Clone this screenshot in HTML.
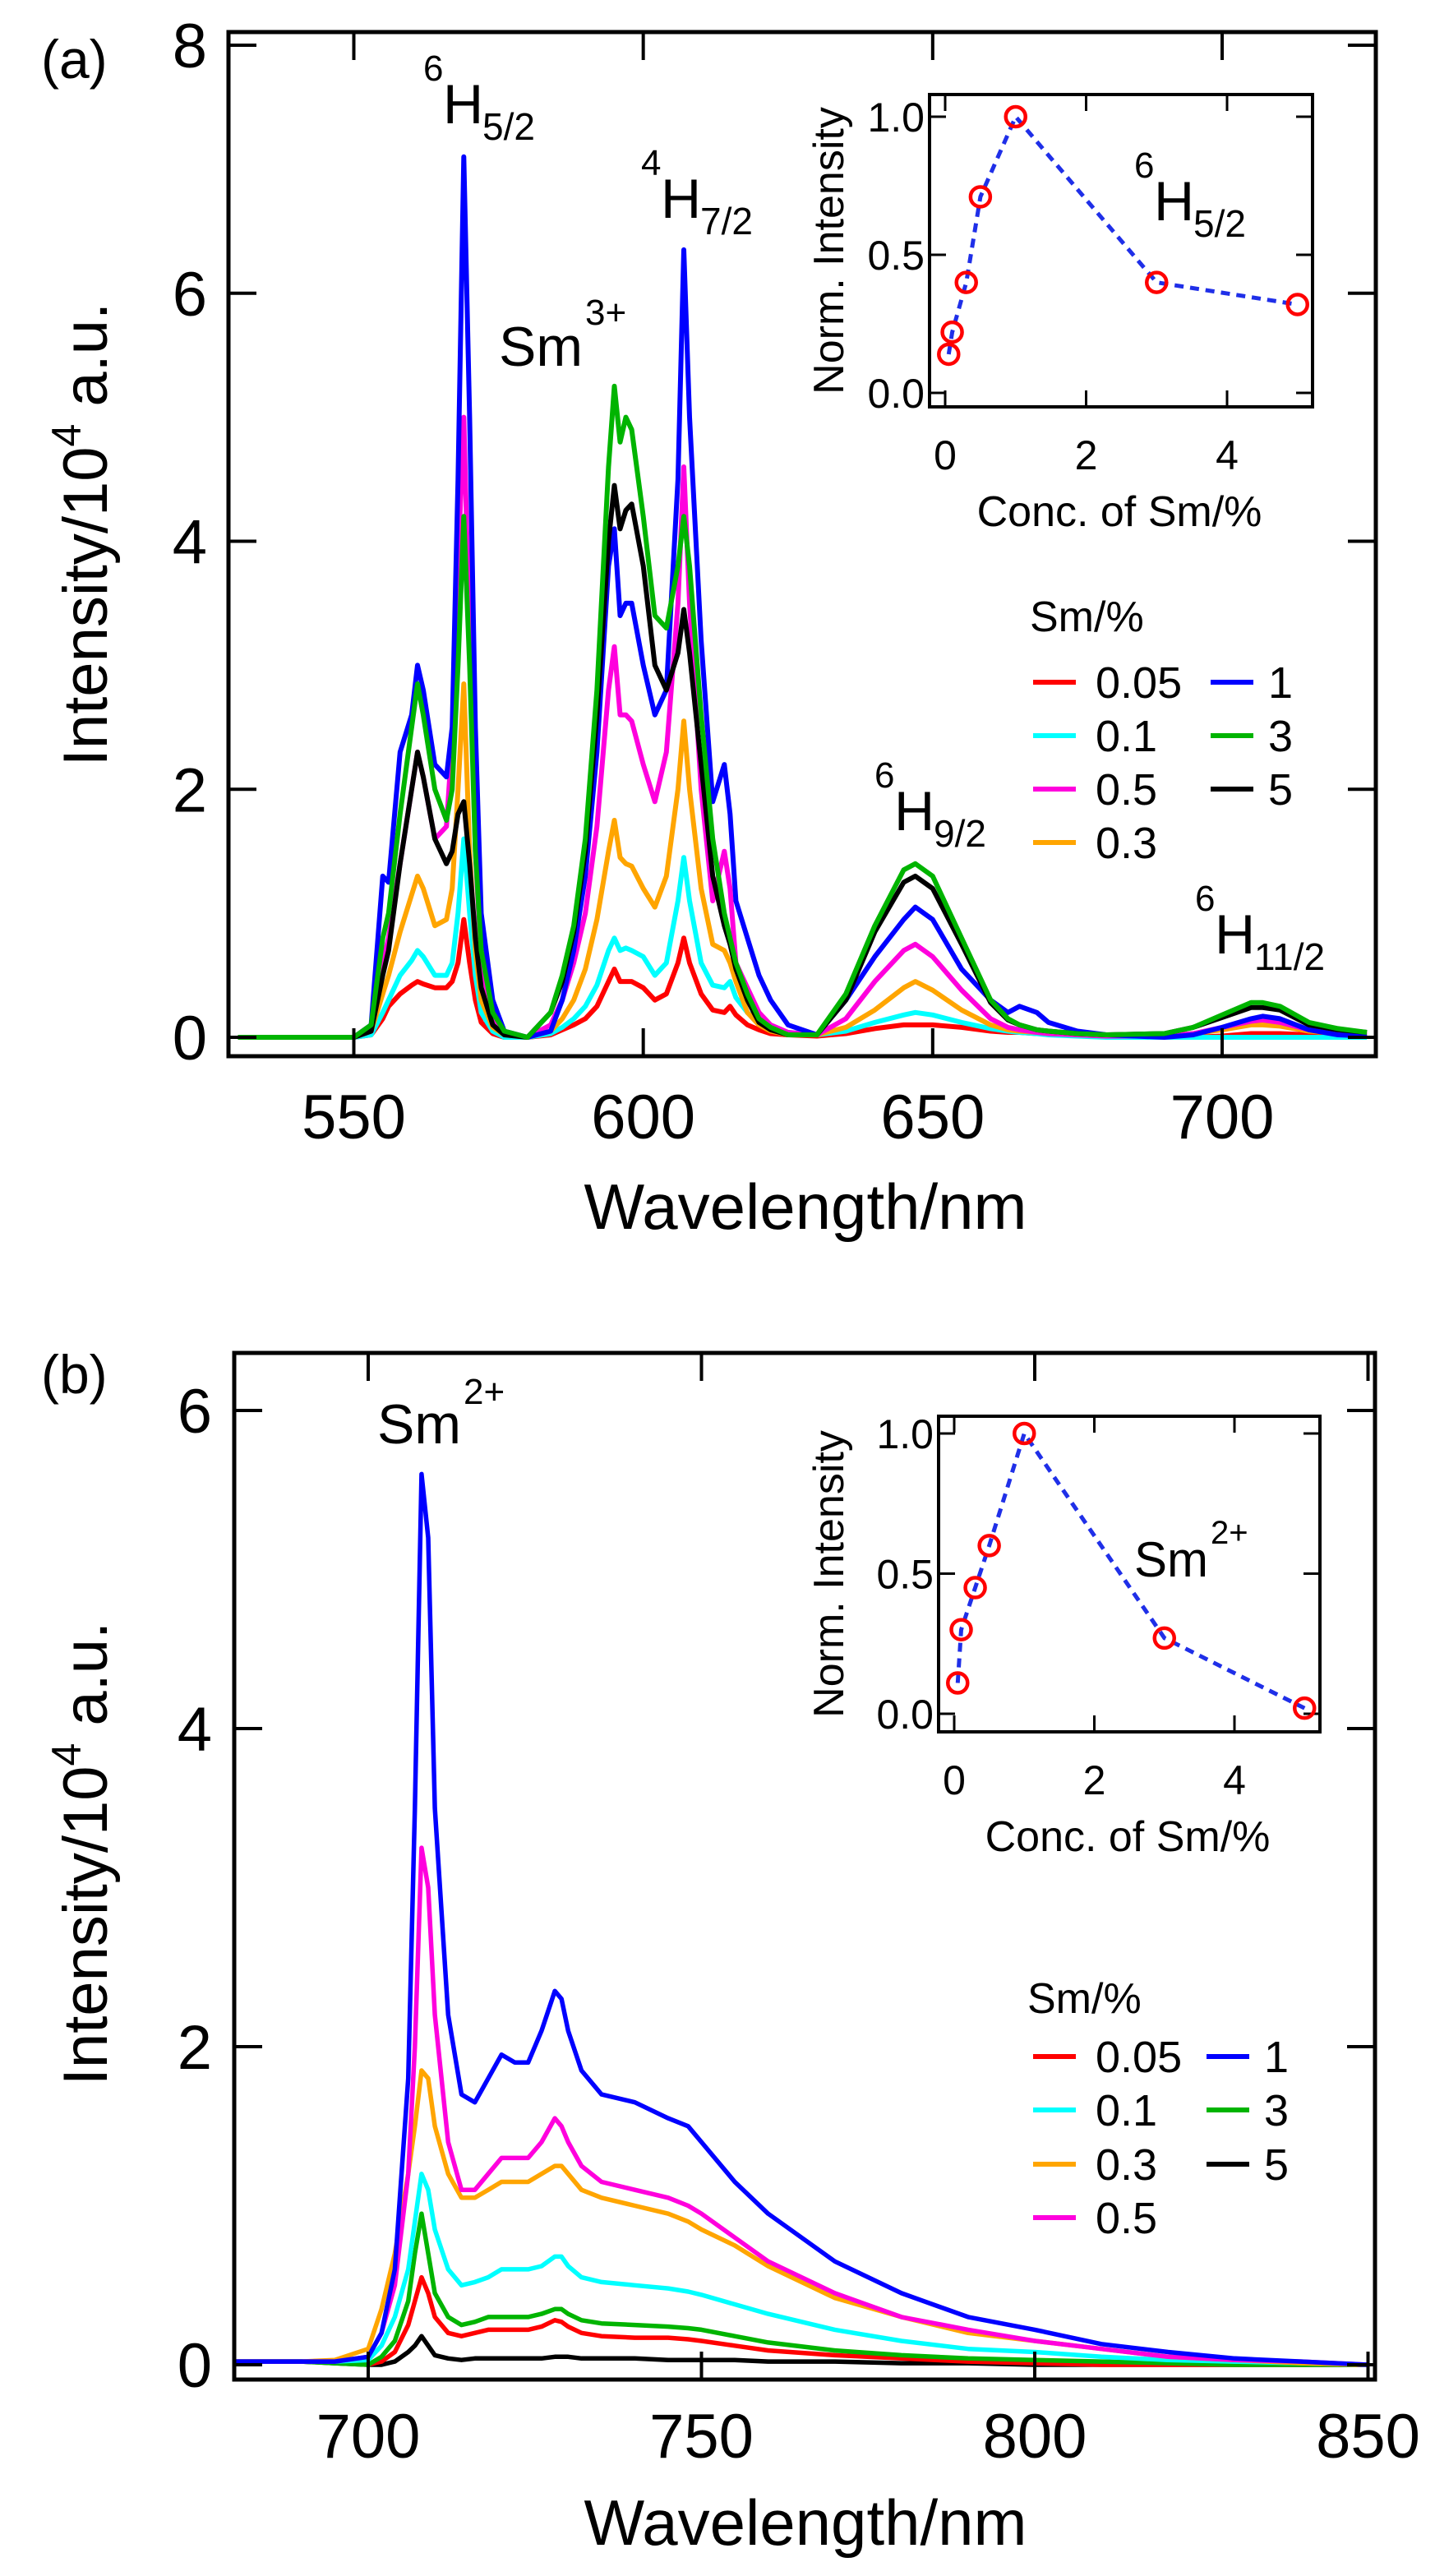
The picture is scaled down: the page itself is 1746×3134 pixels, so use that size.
<!DOCTYPE html>
<html><head><meta charset="utf-8"><style>
html,body{margin:0;padding:0;background:#fff;}
svg{display:block;font-family:"Liberation Sans",Arial,sans-serif;}
</style></head><body>
<svg id="fig" width="1746" height="3134" viewBox="0 0 1746 3134" xmlns="http://www.w3.org/2000/svg">
<g id="pa"></g>
<g id="pb"></g>
</svg>
<script>
// ---------- Panel (a) data ----------
const wlA = [530,540,550,553,555,556,558,560,561,562,564,566,567,568,569,570,571,572,574,576,580,584,586,588,590,592,594,595,596,597,598,600,602,604,606,607,608,610,612,614,615,616,618,620,622,625,630,635,640,645,647,650,655,660,663,665,668,670,675,680,690,695,700,705,707,710,715,720,725];
const aRed   = [0,0,0,0.02,0.15,0.25,0.35,0.42,0.45,0.43,0.4,0.4,0.45,0.6,0.95,0.6,0.3,0.12,0.03,0,0,0.02,0.06,0.1,0.15,0.25,0.45,0.55,0.45,0.45,0.45,0.4,0.3,0.35,0.6,0.8,0.6,0.35,0.22,0.2,0.25,0.18,0.1,0.06,0.03,0.02,0.01,0.03,0.07,0.1,0.1,0.1,0.08,0.05,0.04,0.04,0.03,0.03,0.02,0.01,0,0,0.01,0.03,0.03,0.03,0.02,0.01,0];
const aCyan  = [0,0,0,0.02,0.2,0.3,0.5,0.62,0.7,0.65,0.5,0.5,0.6,1.0,1.6,1.0,0.5,0.2,0.05,0,0,0.03,0.08,0.15,0.25,0.42,0.7,0.8,0.7,0.72,0.7,0.65,0.5,0.6,1.1,1.45,1.1,0.6,0.42,0.4,0.45,0.32,0.2,0.12,0.07,0.04,0.02,0.05,0.12,0.18,0.2,0.18,0.12,0.07,0.05,0.04,0.03,0.02,0.01,0,0,0,0,0,0,0,0,0,0];
const aOrange= [0,0,0,0.05,0.35,0.5,0.85,1.15,1.3,1.2,0.9,0.95,1.2,2.0,2.85,1.5,0.7,0.3,0.08,0.02,0,0.05,0.15,0.3,0.55,0.95,1.5,1.75,1.45,1.4,1.38,1.2,1.05,1.3,2.0,2.55,2.0,1.2,0.75,0.7,0.6,0.45,0.2,0.1,0.05,0.02,0.02,0.08,0.22,0.4,0.45,0.38,0.22,0.1,0.06,0.05,0.04,0.03,0.02,0.01,0.01,0.03,0.06,0.1,0.1,0.09,0.05,0.03,0.02];
const aMag   = [0,0,0,0.05,0.6,0.8,1.4,2.0,2.3,2.1,1.6,1.7,2.4,3.8,5.0,3.2,1.5,0.6,0.15,0.03,0,0.1,0.3,0.6,1.0,1.7,2.8,3.15,2.6,2.6,2.55,2.2,1.9,2.3,3.5,4.6,3.5,2.0,1.1,1.5,1.2,0.6,0.4,0.2,0.1,0.04,0.02,0.15,0.45,0.7,0.75,0.65,0.38,0.15,0.08,0.06,0.04,0.03,0.02,0.01,0.01,0.03,0.08,0.13,0.14,0.12,0.06,0.03,0.02];
const aBlue  = [0,0,0,0.1,1.3,1.25,2.3,2.6,3.0,2.8,2.2,2.1,2.5,4.5,7.1,5.0,2.5,1.0,0.3,0.05,0,0.05,0.3,0.7,1.3,2.3,3.8,4.1,3.4,3.5,3.5,3.0,2.6,2.8,4.5,6.35,5.0,3.2,1.9,2.2,1.8,1.1,0.8,0.5,0.3,0.1,0.02,0.3,0.65,0.95,1.05,0.95,0.55,0.3,0.2,0.25,0.2,0.12,0.05,0.02,0,0.02,0.08,0.15,0.17,0.15,0.06,0.02,0.01];
const aBlack = [0,0,0,0.05,0.5,0.7,1.4,2.0,2.3,2.1,1.6,1.4,1.5,1.8,1.9,1.4,0.8,0.4,0.1,0.02,0,0.2,0.45,0.85,1.5,2.6,4.0,4.45,4.1,4.25,4.3,3.8,3.0,2.8,3.1,3.45,3.1,2.2,1.3,0.9,0.75,0.55,0.3,0.12,0.06,0.02,0.02,0.3,0.85,1.25,1.3,1.2,0.75,0.28,0.14,0.1,0.06,0.05,0.03,0.02,0.03,0.08,0.16,0.24,0.24,0.22,0.1,0.06,0.04];
const aGreen = [0,0,0,0.1,0.8,1.0,1.8,2.5,2.85,2.6,2.0,1.75,2.0,3.0,4.2,3.0,1.5,0.7,0.2,0.05,0,0.2,0.5,0.9,1.6,2.8,4.6,5.25,4.8,5.0,4.9,4.2,3.4,3.3,3.8,4.2,3.8,2.6,1.6,1.0,0.8,0.6,0.35,0.15,0.08,0.02,0.02,0.35,0.9,1.35,1.4,1.3,0.8,0.3,0.15,0.1,0.06,0.05,0.03,0.02,0.03,0.08,0.18,0.28,0.28,0.25,0.12,0.07,0.04];
const yTicksA = [0,2,4,6,8];
const xTicksA = [550,600,650,700];
// Inset (a)
const concA = [0.05,0.1,0.3,0.5,1,3,5];
const normA = [0.14,0.22,0.40,0.71,1.0,0.40,0.32];
// ---------- Panel (b) data ----------
const wlB = [680,690,695,700,702,704,706,707,708,709,710,712,714,716,718,720,722,724,726,728,729,730,732,735,740,745,748,750,755,760,770,780,790,800,810,820,830,840,850];
const bRed   = [0.02,0.02,0.02,0,0.02,0.08,0.25,0.4,0.55,0.45,0.3,0.2,0.18,0.2,0.22,0.22,0.22,0.22,0.24,0.28,0.27,0.24,0.2,0.18,0.17,0.17,0.16,0.15,0.12,0.09,0.06,0.04,0.02,0.01,0,0,0,0,0];
const bCyan  = [0.02,0.02,0.02,0.03,0.12,0.3,0.6,0.9,1.2,1.1,0.85,0.6,0.5,0.52,0.55,0.6,0.6,0.6,0.62,0.68,0.68,0.62,0.55,0.52,0.5,0.48,0.46,0.44,0.38,0.32,0.22,0.15,0.1,0.08,0.05,0.03,0.02,0.01,0];
const bOrange= [0.02,0.02,0.03,0.1,0.35,0.7,1.2,1.5,1.85,1.8,1.5,1.2,1.05,1.05,1.1,1.15,1.15,1.15,1.2,1.25,1.25,1.2,1.1,1.05,1.0,0.95,0.9,0.85,0.75,0.62,0.42,0.3,0.2,0.15,0.1,0.05,0.03,0.01,0];
const bMag   = [0.02,0.02,0.02,0.05,0.2,0.5,1.2,2.0,3.25,3.0,2.2,1.4,1.1,1.1,1.2,1.3,1.3,1.3,1.4,1.55,1.5,1.4,1.25,1.15,1.1,1.05,1.0,0.95,0.8,0.65,0.45,0.3,0.22,0.15,0.1,0.05,0.03,0.02,0];
const bBlue  = [0.02,0.02,0.02,0.05,0.2,0.6,1.8,3.5,5.6,5.2,3.5,2.2,1.7,1.65,1.8,1.95,1.9,1.9,2.1,2.35,2.3,2.1,1.85,1.7,1.65,1.55,1.5,1.4,1.15,0.95,0.65,0.45,0.3,0.22,0.13,0.08,0.04,0.02,0];
const bGreen = [0.02,0.02,0.01,0,0.05,0.15,0.4,0.7,0.95,0.7,0.45,0.3,0.25,0.27,0.3,0.3,0.3,0.3,0.32,0.35,0.35,0.32,0.28,0.26,0.25,0.24,0.23,0.22,0.18,0.14,0.09,0.06,0.04,0.03,0.02,0.01,0,0,0];
const bBlack = [0.02,0.02,0.01,0,0,0.02,0.08,0.12,0.18,0.12,0.06,0.04,0.03,0.04,0.04,0.04,0.04,0.04,0.04,0.05,0.05,0.05,0.04,0.04,0.04,0.03,0.03,0.03,0.03,0.02,0.02,0.01,0.01,0,0,0,0,0,0];
const yTicksB = [0,2,4,6];
const xTicksB = [700,750,800,850];
const concB = [0.05,0.1,0.3,0.5,1,3,5];
const normB = [0.11,0.30,0.45,0.60,1.0,0.27,0.02];
const insetTicksY = [0,0.5,1.0];
const insetTicksX = [0,2,4];

const NS='http://www.w3.org/2000/svg';
function mk(parent, tag, attrs, text){
  const e=document.createElementNS(NS,tag);
  for(const k in attrs) e.setAttribute(k,attrs[k]);
  if(text!==undefined) e.textContent=text;
  parent.appendChild(e); return e;
}
function lin(d0,d1,r0,r1){return v=>r0+(v-d0)*(r1-r0)/(d1-d0);}

function drawPanel(g, cfg){
  const {L,R,T,B,xs,ys,xTicks,yTicks,series,legend,lg} = cfg;
  const clipId='clip'+cfg.id;
  const cp=mk(g,'clipPath',{id:clipId}); mk(cp,'rect',{x:L,y:T,width:R-L,height:B-T});
  const sg=mk(g,'g',{'clip-path':'url(#'+clipId+')'});
   
  series.forEach(s=>{
    let d=''; s.wl.forEach((w,i)=>{d+=(i?'L':'M')+xs(w).toFixed(1)+' '+ys(s.v[i]).toFixed(1);});
    const p=mk(sg,'path',{d:d,fill:'none',stroke:s.c,'stroke-width':cfg.sw,'stroke-linejoin':'round'});
    
    
  });
  // frame
  const fr=mk(g,'rect',{x:L,y:T,width:R-L,height:B-T,fill:'none',stroke:'#000','stroke-width':5});
   
  xTicks.forEach(t=>{
    const x=xs(t);
    mk(g,'line',{x1:x,y1:B,x2:x,y2:B-34,stroke:'#000','stroke-width':4});
    mk(g,'line',{x1:x,y1:T,x2:x,y2:T+34,stroke:'#000','stroke-width':4});
    const tl=mk(g,'text',{x:x,y:cfg.xLabY,'font-size':76,'text-anchor':'middle'},String(t));
     
  });
  yTicks.forEach(t=>{
    const y=ys(t);
    mk(g,'line',{x1:L,y1:y,x2:L+34,y2:y,stroke:'#000','stroke-width':4});
    mk(g,'line',{x1:R,y1:y,x2:R-34,y2:y,stroke:'#000','stroke-width':4});
    const tl=mk(g,'text',{x:cfg.yLabX,y:y+27,'font-size':76,'text-anchor':'end'},String(t));
     
  });
  // legend
  const lgG=mk(g,'g',{});  
  const ttl=mk(lgG,'text',{x:lg.tx,y:lg.ty,'font-size':52},'Sm/%');
   
  legend.forEach(e=>{
    const x0=e.col?lg.x2:lg.x1, y=lg.rows[e.row];
    const eg=mk(lgG,'g',{});
     
    mk(eg,'line',{x1:x0,y1:y,x2:x0+52,y2:y,stroke:e.c,'stroke-width':6});
    mk(eg,'text',{x:x0+(e.col?70:76),y:y+19,'font-size':54},e.n);
  });
}
function drawInset(g,cfg){
  const {L,R,T,B,xs,ys,cx,cy}=cfg;
  const ig=mk(g,'g',{});  
  mk(ig,'rect',{x:L,y:T,width:R-L,height:B-T,fill:'#fff',stroke:'#000','stroke-width':4});
  insetTicksX.forEach(t=>{
    const x=xs(t);
    mk(ig,'line',{x1:x,y1:B,x2:x,y2:B-20,stroke:'#000','stroke-width':3});
    mk(ig,'line',{x1:x,y1:T,x2:x,y2:T+20,stroke:'#000','stroke-width':3});
    const tl=mk(ig,'text',{x:x,y:B+76,'font-size':50,'text-anchor':'middle'},String(t));
     
  });
  insetTicksY.forEach(t=>{
    const y=ys(t);
    mk(ig,'line',{x1:L,y1:y,x2:L+20,y2:y,stroke:'#000','stroke-width':3});
    mk(ig,'line',{x1:R,y1:y,x2:R-20,y2:y,stroke:'#000','stroke-width':3});
    const tl=mk(ig,'text',{x:L-6,y:y+18,'font-size':50,'text-anchor':'end'},t.toFixed(1));
     
  });
  let d=''; cx.forEach((c,i)=>{d+=(i?'L':'M')+xs(c).toFixed(1)+' '+ys(cy[i]).toFixed(1);});
  const ln=mk(ig,'path',{d:d,fill:'none',stroke:'#1f2fe8','stroke-width':5,'stroke-dasharray':'11 8'});
   
  cx.forEach((c,i)=>{
    const m=mk(ig,'circle',{cx:xs(c),cy:ys(cy[i]),r:12,fill:'none',stroke:'#ff0000','stroke-width':4.5});
     
  });
  const xl=mk(ig,'text',{x:(L+R)/2-2,y:B+145,'font-size':52,'text-anchor':'middle'},'Conc. of Sm/%');
   
  const yc=(T+B)/2;
  const yl=mk(ig,'text',{x:1008,y:yc,'font-size':52,'text-anchor':'middle',transform:'rotate(-90 1008 '+yc+') translate(0 18)'},'Norm. Intensity');
   
}
function txt(g,x,y,size,str,name){
  const t=mk(g,'text',{x:x,y:y,'font-size':size},str);
   
  return t;
}
function term(g,x,y,sup,main,sub,name){
  const t=mk(g,'g',{});  
  mk(t,'text',{x:x,y:y-52,'font-size':44},sup);
  const w=sup.length*24;
  mk(t,'text',{x:x+w,y:y,'font-size':68},main);
  mk(t,'text',{x:x+w+48,y:y+20,'font-size':46},sub);
}

// ---- Panel (a)
const pa=document.getElementById('pa');
const xsA=lin(550,700,430.5,1487), ysA=lin(0,8,1262,55);
drawPanel(pa,{id:'a',L:278,R:1674,T:39,B:1285,xs:xsA,ys:ysA,xTicks:xTicksA,yTicks:yTicksA,sw:6,
  xLabY:1385,yLabX:252,
  series:[
    {n:'0.05',c:'#ff0000',wl:wlA,v:aRed},{n:'0.1',c:'#00ffff',wl:wlA,v:aCyan},
    {n:'0.3',c:'#ffa500',wl:wlA,v:aOrange},{n:'0.5',c:'#ff00dd',wl:wlA,v:aMag},
    {n:'1',c:'#0000ff',wl:wlA,v:aBlue},{n:'5',c:'#000000',wl:wlA,v:aBlack},
    {n:'3',c:'#00b400',wl:wlA,v:aGreen}],
  legend:[{n:'0.05',c:'#ff0000',col:0,row:0},{n:'0.1',c:'#00ffff',col:0,row:1},{n:'0.5',c:'#ff00dd',col:0,row:2},{n:'0.3',c:'#ffa500',col:0,row:3},
          {n:'1',c:'#0000ff',col:1,row:0},{n:'3',c:'#00b400',col:1,row:1},{n:'5',c:'#000000',col:1,row:2}],
  lg:{tx:1253,ty:768,x1:1257,x2:1473,rows:[830,895,960,1025]}
});
drawInset(pa,{L:1131,R:1597,T:115,B:495,xs:lin(0,4,1150,1493),ys:lin(0,1,478,142),cx:concA,cy:normA});
txt(pa,50,95,66,'(a)','panel-label-a');
term(pa,515,150,'6','H','5/2','label-6H52');
term(pa,780,265,'4','H','7/2','label-4H72');
term(pa,1064,1010,'6','H','9/2','label-6H92');
term(pa,1454,1160,'6','H','11/2','label-6H112');
term(pa,1380,268,'6','H','5/2','inset-label-6H52');
{const t=mk(pa,'g',{});  
 mk(t,'text',{x:607,y:445,'font-size':68},'Sm'); mk(t,'text',{x:712,y:395,'font-size':44},'3+');}
{const t=mk(pa,'text',{x:980,y:1495,'font-size':78,'text-anchor':'middle'},'Wavelength/nm');
  
 const y=mk(pa,'text',{x:0,y:0,'font-size':76,'text-anchor':'middle',transform:'translate(130 650) rotate(-90)'},'');
  
 const a=mk(y,'tspan',{},'Intensity/10'); const b=mk(y,'tspan',{dy:-32,'font-size':50},'4'); const c=mk(y,'tspan',{dy:32},' a.u.');}

// ---- Panel (b)
const pb=document.getElementById('pb');
const xsB=lin(700,850,448,1664.5), ysB=lin(0,6,2877,1716);
drawPanel(pb,{id:'b',L:285,R:1673,T:1646,B:2895,xs:xsB,ys:ysB,xTicks:xTicksB,yTicks:yTicksB,sw:5.5,
  xLabY:2990,yLabX:258,
  series:[
    {n:'5',c:'#000000',wl:wlB,v:bBlack},{n:'0.05',c:'#ff0000',wl:wlB,v:bRed},
    {n:'3',c:'#00b400',wl:wlB,v:bGreen},{n:'0.1',c:'#00ffff',wl:wlB,v:bCyan},
    {n:'0.3',c:'#ffa500',wl:wlB,v:bOrange},{n:'0.5',c:'#ff00dd',wl:wlB,v:bMag},
    {n:'1',c:'#0000ff',wl:wlB,v:bBlue}],
  legend:[{n:'0.05',c:'#ff0000',col:0,row:0},{n:'0.1',c:'#00ffff',col:0,row:1},{n:'0.3',c:'#ffa500',col:0,row:2},{n:'0.5',c:'#ff00dd',col:0,row:3},
          {n:'1',c:'#0000ff',col:1,row:0},{n:'3',c:'#00b400',col:1,row:1},{n:'5',c:'#000000',col:1,row:2}],
  lg:{tx:1250,ty:2449,x1:1257,x2:1468,rows:[2502,2567,2633,2698]}
});
drawInset(pb,{L:1142,R:1606,T:1723,B:2107,xs:lin(0,4,1161,1502),ys:lin(0,1,2085,1744),cx:concB,cy:normB});
txt(pb,50,1695,66,'(b)','panel-label-b');
{const t=mk(pb,'g',{});  
 mk(t,'text',{x:459,y:1756,'font-size':68},'Sm'); mk(t,'text',{x:564,y:1708,'font-size':44},'2+');}
{const t=mk(pb,'g',{});  
 mk(t,'text',{x:1380,y:1918,'font-size':60},'Sm'); mk(t,'text',{x:1473,y:1878,'font-size':40},'2+');}
{const t=mk(pb,'text',{x:980,y:3096,'font-size':78,'text-anchor':'middle'},'Wavelength/nm');
  
 const y=mk(pb,'text',{x:0,y:0,'font-size':76,'text-anchor':'middle',transform:'translate(130 2255) rotate(-90)'},'');
  
 mk(y,'tspan',{},'Intensity/10'); mk(y,'tspan',{dy:-32,'font-size':50},'4'); mk(y,'tspan',{dy:32},' a.u.');}
</script>
</body></html>
